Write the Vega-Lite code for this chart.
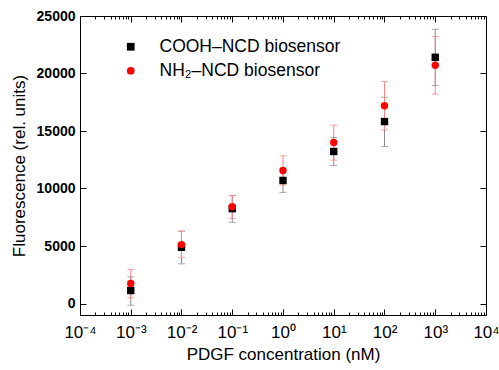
{
  "$schema": "https://vega.github.io/schema/vega-lite/v6.json",
  "width": 406,
  "height": 299,
  "autosize": "none",
  "padding": {"left": 80, "top": 16, "right": 13, "bottom": 55},
  "background": "white",
  "config": {
    "font": "Liberation Sans",
    "view": {"stroke": "black", "strokeWidth": 1},
    "axis": {
      "grid": false,
      "domainColor": "black",
      "tickColor": "black",
      "labelColor": "black",
      "titleColor": "black",
      "labelFont": "Liberation Sans",
      "titleFont": "Liberation Sans",
      "titleFontWeight": "normal"
    }
  },
  "data": {
    "values": [
      {"conc": 0.001, "series": "COOH–NCD biosensor", "mean": 1130, "lo": -150, "hi": 2320},
      {"conc": 0.01, "series": "COOH–NCD biosensor", "mean": 4890, "lo": 3450, "hi": 6300},
      {"conc": 0.1, "series": "COOH–NCD biosensor", "mean": 8250, "lo": 7060, "hi": 9400},
      {"conc": 1, "series": "COOH–NCD biosensor", "mean": 10700, "lo": 9660, "hi": 11750},
      {"conc": 10, "series": "COOH–NCD biosensor", "mean": 13220, "lo": 12000, "hi": 14430},
      {"conc": 100, "series": "COOH–NCD biosensor", "mean": 15820, "lo": 13650, "hi": 17940},
      {"conc": 1000, "series": "COOH–NCD biosensor", "mean": 21410, "lo": 18950, "hi": 23840},
      {"conc": 0.001, "series": "NH₂–NCD biosensor", "mean": 1740, "lo": 490, "hi": 2950},
      {"conc": 0.01, "series": "NH₂–NCD biosensor", "mean": 5120, "lo": 4020, "hi": 6280},
      {"conc": 0.1, "series": "NH₂–NCD biosensor", "mean": 8420, "lo": 7400, "hi": 9380},
      {"conc": 1, "series": "NH₂–NCD biosensor", "mean": 11570, "lo": 10300, "hi": 12850},
      {"conc": 10, "series": "NH₂–NCD biosensor", "mean": 14000, "lo": 12470, "hi": 15510},
      {"conc": 100, "series": "NH₂–NCD biosensor", "mean": 17190, "lo": 15100, "hi": 19300},
      {"conc": 1000, "series": "NH₂–NCD biosensor", "mean": 20720, "lo": 18200, "hi": 23230}
    ]
  },
  "resolve": {
    "axis": {"x": "independent", "y": "independent"},
    "scale": {"color": "independent", "shape": "independent"},
    "legend": {"color": "independent", "shape": "independent"}
  },
  "layer": [
    {
      "mark": {"type": "rule", "strokeWidth": 1},
      "encoding": {
        "x": {
          "field": "conc", "type": "quantitative",
          "scale": {"type": "log", "domain": [0.0001, 10000], "nice": false},
          "axis": {
            "orient": "bottom",
            "title": "PDGF concentration (nM)",
            "titleFontSize": 17,
            "titlePadding": 3,
            "labelFontSize": 17,
            "labelPadding": 15,
            "tickSize": {"condition": {"test": "abs(log(datum.value)/LN10 - round(log(datum.value)/LN10)) < 0.001", "value": -6}, "value": -3},
            "values": [0.0001,0.0002,0.0003,0.0004,0.0005,0.0006,0.0007,0.0008,0.0009,0.001,0.002,0.003,0.004,0.005,0.006,0.007,0.008,0.009,0.01,0.02,0.03,0.04,0.05,0.06,0.07,0.08,0.09,0.1,0.2,0.3,0.4,0.5,0.6,0.7,0.8,0.9,1,2,3,4,5,6,7,8,9,10,20,30,40,50,60,70,80,90,100,200,300,400,500,600,700,800,900,1000,2000,3000,4000,5000,6000,7000,8000,9000,10000],
            "labelExpr": "abs(log(datum.value)/LN10 - round(log(datum.value)/LN10)) < 0.001 ? ['10⁻⁴','10⁻³','10⁻²','10⁻¹','10⁰','10¹','10²','10³','10⁴'][round(log(datum.value)/LN10)+4] : ''",
            "labelFlush": false,
            "labelOverlap": false
          }
        },
        "y": {
          "field": "lo", "type": "quantitative",
          "scale": {"domain": [-1000, 25000], "nice": false, "zero": false},
          "axis": {
            "orient": "left",
            "title": "Fluorescence (rel. units)",
            "titleFontSize": 17,
            "titlePadding": 8,
            "format": "d",
            "labelFontSize": 14,
            "labelFontWeight": "bold",
            "labelPadding": 11,
            "tickSize": -6,
            "values": [0, 5000, 10000, 15000, 20000, 25000]
          }
        },
        "y2": {"field": "hi"},
        "color": {
          "field": "series", "type": "nominal",
          "scale": {"domain": ["COOH–NCD biosensor", "NH₂–NCD biosensor"], "range": ["#8a8a8a", "#ff8080"]},
          "legend": null
        }
      }
    },
    {
      "mark": {"type": "point", "shape": "stroke", "size": 49, "strokeWidth": 1, "filled": false},
      "encoding": {
        "x": {"field": "conc", "type": "quantitative", "axis": null},
        "y": {"field": "lo", "type": "quantitative", "axis": null},
        "color": {
          "field": "series", "type": "nominal",
          "scale": {"domain": ["COOH–NCD biosensor", "NH₂–NCD biosensor"], "range": ["#8a8a8a", "#ff8080"]},
          "legend": null
        }
      }
    },
    {
      "mark": {"type": "point", "shape": "stroke", "size": 49, "strokeWidth": 1, "filled": false},
      "encoding": {
        "x": {"field": "conc", "type": "quantitative", "axis": null},
        "y": {"field": "hi", "type": "quantitative", "axis": null},
        "color": {
          "field": "series", "type": "nominal",
          "scale": {"domain": ["COOH–NCD biosensor", "NH₂–NCD biosensor"], "range": ["#8a8a8a", "#ff8080"]},
          "legend": null
        }
      }
    },
    {
      "mark": {"type": "point", "filled": true, "size": 55, "opacity": 1},
      "encoding": {
        "x": {
          "field": "conc", "type": "quantitative",
          "axis": {
            "orient": "top", "title": null, "labels": false, "labelExpr": "''", "domain": false,
            "tickSize": {"condition": {"test": "abs(log(datum.value)/LN10 - round(log(datum.value)/LN10)) < 0.001", "value": -6}, "value": -3},
            "values": [0.0001,0.0002,0.0003,0.0004,0.0005,0.0006,0.0007,0.0008,0.0009,0.001,0.002,0.003,0.004,0.005,0.006,0.007,0.008,0.009,0.01,0.02,0.03,0.04,0.05,0.06,0.07,0.08,0.09,0.1,0.2,0.3,0.4,0.5,0.6,0.7,0.8,0.9,1,2,3,4,5,6,7,8,9,10,20,30,40,50,60,70,80,90,100,200,300,400,500,600,700,800,900,1000,2000,3000,4000,5000,6000,7000,8000,9000,10000]
          }
        },
        "y": {
          "field": "mean", "type": "quantitative",
          "axis": {"orient": "right", "title": null, "labels": false, "labelExpr": "''", "domain": false, "tickSize": -6, "values": [0, 5000, 10000, 15000, 20000, 25000]}
        },
        "color": {
          "field": "series", "type": "nominal",
          "scale": {"domain": ["COOH–NCD biosensor", "NH₂–NCD biosensor"], "range": ["black", "red"]},
          "legend": {
            "title": null, "orient": "none", "legendX": 42, "legendY": 22,
            "labelFontSize": 17.5, "labelFont": "Liberation Sans", "labelColor": "black", "labelLimit": 300,
            "symbolSize": 60, "labelOffset": 20, "rowPadding": 5, "padding": 0
          }
        },
        "shape": {
          "field": "series", "type": "nominal",
          "scale": {"domain": ["COOH–NCD biosensor", "NH₂–NCD biosensor"], "range": ["square", "circle"]},
          "legend": {
            "title": null, "orient": "none", "legendX": 42, "legendY": 22,
            "labelFontSize": 17.5, "labelFont": "Liberation Sans", "labelColor": "black", "labelLimit": 300,
            "symbolSize": 60, "labelOffset": 20, "rowPadding": 5, "padding": 0
          }
        }
      }
    }
  ]
}
